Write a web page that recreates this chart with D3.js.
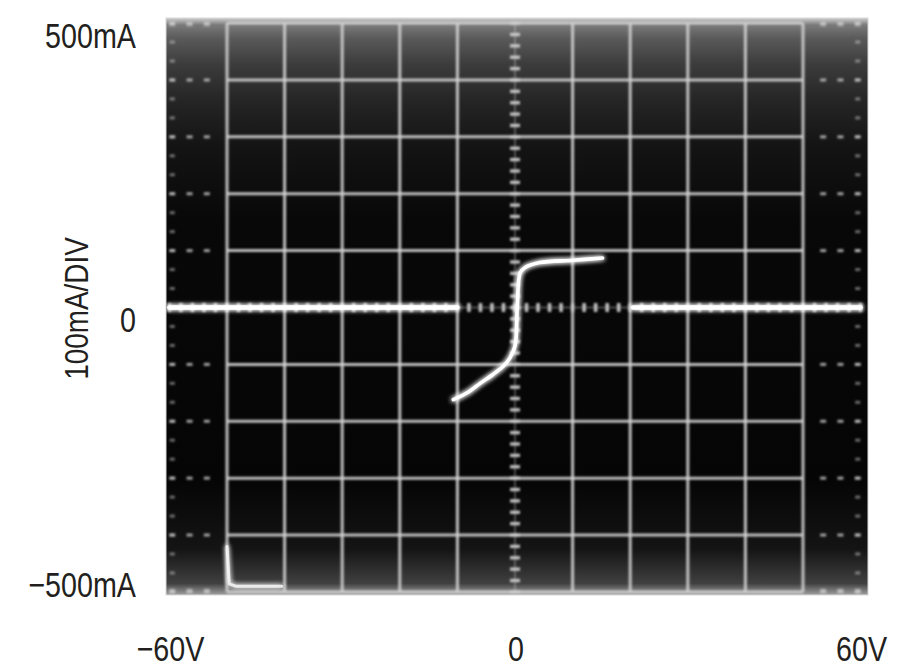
<!DOCTYPE html>
<html>
<head>
<meta charset="utf-8">
<script src="https://cdn.jsdelivr.net/npm/d3@7"></script>
<style>
  html, body { margin: 0; padding: 0; background: #fff; }
  svg { display: block; }
  text { fill: #231f20; }
</style>
</head>
<body>
<svg id="chart" width="900" height="671"></svg>
<script>
// ---- data ----
const xTickValues = [-60, 0, 60];
const xTickLabels = ["\u221260V", "0", "60V"];
const yTickValues = [500, 0, -500];
const yTickLabels = ["500mA", "0", "\u2212500mA"];
const yAxisTitle = "100mA/DIV";

// main I-V curve (V in volts, I in mA)
const curveV = [-10.7, -8, -6, -4, -2, -0.9, 0, 0.4, 0.9, 1.7, 4.3, 10.1, 15.2];
const curveI = [-162, -148, -133, -119, -103, -89, -68, 2, 61, 70, 79, 83, 87];
// flat zero-current segments
const leftFlatV = [-60, -35, -10];
const leftFlatI = [0, 0, 0];
const rightFlatV = [20.5, 40, 60];
const rightFlatI = [0, 0, 0];
// retrace spike at lower left
const spikeV = [-50, -49.6, -48.5, -40.5];
const spikeI = [-420, -486, -490, -490];

// ---- layout ----
const svg = d3.select("#chart");
const x = d3.scaleLinear().domain([-60, 60]).range([169.4, 860.6]);
const y = d3.scaleLinear().domain([-500, 500]).range([591.9, 23.1]);

const defs = svg.append("defs");
const bg = defs.append("linearGradient").attr("id", "bg").attr("x1", 0).attr("y1", 0).attr("x2", 0).attr("y2", 1);
[[0, "#d0d0d0"], [0.012, "#7a7a7a"], [0.035, "#5a5a5a"], [0.08, "#3c3c3c"], [0.14, "#262626"],
 [0.22, "#141414"], [0.35, "#080808"], [0.8, "#050505"], [0.92, "#141414"], [0.98, "#404040"], [1, "#a0a0a0"]]
  .forEach(([o, c]) => bg.append("stop").attr("offset", o).attr("stop-color", c));

const soft = defs.append("filter").attr("id", "soft").attr("x", "-5%").attr("y", "-5%").attr("width", "110%").attr("height", "110%");
soft.append("feGaussianBlur").attr("stdDeviation", 0.9);

const glow = defs.append("filter").attr("id", "glow").attr("x", "-20%").attr("y", "-20%").attr("width", "140%").attr("height", "140%");
glow.append("feGaussianBlur").attr("in", "SourceGraphic").attr("stdDeviation", 2.5).attr("result", "b");
const gm = glow.append("feMerge");
gm.append("feMergeNode").attr("in", "b");
gm.append("feMergeNode").attr("in", "b");
gm.append("feMergeNode").attr("in", "SourceGraphic");

const sx0 = x(-60) - 3.4, sy0 = y(500) - 5.1;
const sw = x(60) - x(-60) + 10.8, sh = y(-500) - y(500) + 8.2;
defs.append("clipPath").attr("id", "screenClip").append("rect")
  .attr("x", sx0).attr("y", sy0).attr("width", sw).attr("height", sh);

// screen
svg.append("rect").attr("x", sx0).attr("y", sy0).attr("width", sw).attr("height", sh)
  .attr("fill", "url(#bg)");

const screen = svg.append("g").attr("clip-path", "url(#screenClip)");
const grid = screen.append("g").attr("filter", "url(#soft)")
  .attr("stroke", "#d0d0d0").attr("stroke-opacity", 0.9);

const majorV = d3.range(-50, 51, 10).filter(v => v !== 0);
const majorI = d3.range(-500, 501, 100).filter(v => v !== 0);

// vertical major lines
grid.selectAll(".gv").data(majorV).join("line")
  .attr("x1", d => x(d)).attr("x2", d => x(d))
  .attr("y1", y(500)).attr("y2", y(-500))
  .attr("stroke-width", 3);

// horizontal major lines (solid inside, dashed in outer columns)
grid.selectAll(".gh").data(majorI).join("line")
  .attr("x1", x(-50)).attr("x2", x(50))
  .attr("y1", d => y(d)).attr("y2", d => y(d))
  .attr("stroke-width", 3);
const outerDashV = [-59.5, -56.5, -53.5, 53.5, 56.5, 59.5];
majorI.forEach(iv => {
  grid.selectAll(null).data(outerDashV).join("line")
    .attr("x1", d => x(d) - 3).attr("x2", d => x(d) + 3)
    .attr("y1", y(iv)).attr("y2", y(iv))
    .attr("stroke-width", 3).attr("stroke-opacity", 0.75);
});

// center axes with minor ticks
const minorI = d3.range(-500, 501, 20);
const minorV = d3.range(-60, 61, 2);
grid.append("line")
  .attr("x1", x(0)).attr("x2", x(0)).attr("y1", y(500)).attr("y2", y(-500))
  .attr("stroke-width", 1.5).attr("stroke-opacity", 0.45);
grid.selectAll(".mi").data(minorI).join("line")
  .attr("x1", x(0) - 5).attr("x2", x(0) + 5)
  .attr("y1", d => y(d)).attr("y2", d => y(d))
  .attr("stroke-width", 3.4);
grid.append("line")
  .attr("x1", x(-60)).attr("x2", x(60)).attr("y1", y(0)).attr("y2", y(0))
  .attr("stroke-width", 1.5).attr("stroke-opacity", 0.45);
grid.selectAll(".mv").data(minorV).join("line")
  .attr("x1", d => x(d)).attr("x2", d => x(d))
  .attr("y1", y(0) - 4.5).attr("y2", y(0) + 4.5)
  .attr("stroke-width", 3.6);

// edge dotted columns / rows
const edgeI = d3.range(-500, 501, 100 / 3);
[-59.5, 59.5].forEach(ev => {
  grid.selectAll(null).data(edgeI).join("line")
    .attr("x1", x(ev) - 2.5).attr("x2", x(ev) + 2.5)
    .attr("y1", d => y(d)).attr("y2", d => y(d))
    .attr("stroke-width", 3).attr("stroke-opacity", 0.5);
});
[497, -497].forEach(ei => {
  grid.selectAll(null).data(outerDashV).join("line")
    .attr("x1", d => x(d) - 3).attr("x2", d => x(d) + 3)
    .attr("y1", y(ei)).attr("y2", y(ei))
    .attr("stroke-width", 3).attr("stroke-opacity", 0.55);
});

// ---- traces ----
const lineLin = d3.line().x(d => x(d[0])).y(d => y(d[1]));
const lineCurve = d3.line().x(d => x(d[0])).y(d => y(d[1])).curve(d3.curveCatmullRom.alpha(0.5));
const traces = screen.append("g").attr("filter", "url(#glow)").attr("fill", "none")
  .attr("stroke", "#ffffff").attr("stroke-linecap", "round").attr("stroke-linejoin", "round");

traces.append("path").datum(d3.zip(leftFlatV, leftFlatI)).attr("d", lineLin).attr("stroke-width", 4.6);
traces.append("path").datum(d3.zip(rightFlatV, rightFlatI)).attr("d", lineLin).attr("stroke-width", 4.6);
traces.append("path").datum(d3.zip(curveV, curveI)).attr("d", lineCurve).attr("stroke-width", 3.6);
traces.append("path").datum(d3.zip(spikeV, spikeI)).attr("d", lineLin)
  .attr("stroke-width", 3).attr("stroke-opacity", 0.75);

// screen border highlight
svg.append("rect").attr("x", sx0).attr("y", sy0).attr("width", sw).attr("height", sh)
  .attr("fill", "none").attr("stroke", "#d8d8d8").attr("stroke-width", 1);

// ---- labels (condensed sans) ----
const labelFont = "'Liberation Sans', Arial, sans-serif";
const squeeze = 0.82;
const yBaselines = [48, 332, 597];
svg.selectAll(".ylab").data(yTickValues).join("text")
  .attr("transform", (d, i) => `translate(136, ${yBaselines[i]}) scale(${squeeze},1)`)
  .attr("text-anchor", "end")
  .attr("font-family", labelFont).attr("font-size", 35)
  .text((d, i) => yTickLabels[i]);

svg.selectAll(".xlab").data(xTickValues).join("text")
  .attr("transform", d => `translate(${x(d) + 1}, 661) scale(${squeeze},1)`)
  .attr("text-anchor", "middle")
  .attr("font-family", labelFont).attr("font-size", 35)
  .text((d, i) => xTickLabels[i]);

svg.append("text")
  .attr("transform", `translate(88, ${y(0) + 1}) rotate(-90) scale(${squeeze},1)`)
  .attr("text-anchor", "middle")
  .attr("font-family", labelFont).attr("font-size", 34)
  .text(yAxisTitle);
</script>
</body>
</html>
